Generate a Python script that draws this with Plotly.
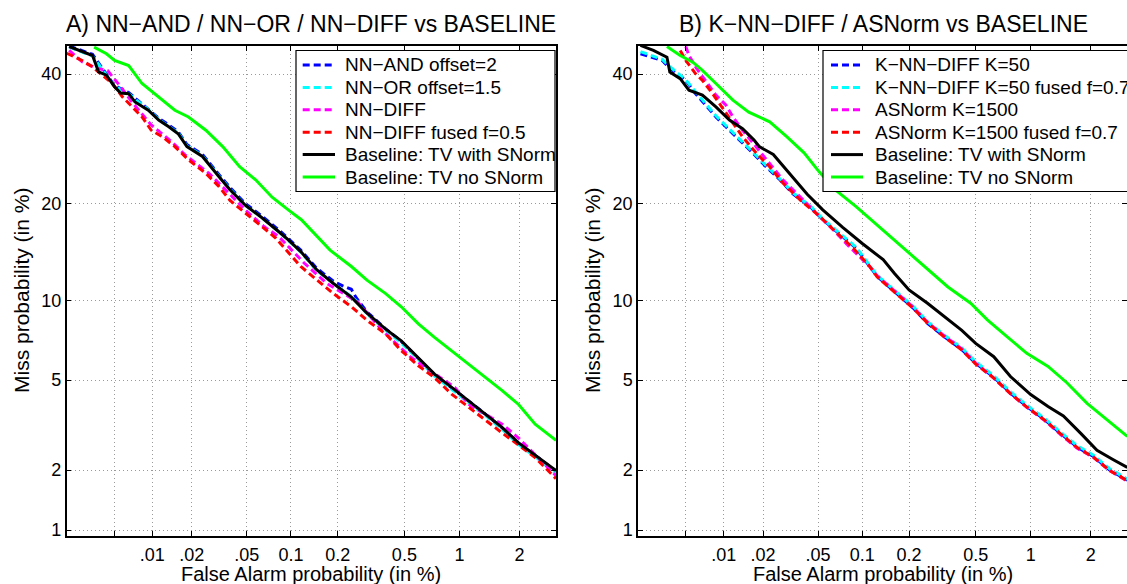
import plotly.graph_objects as go
from statistics import NormalDist

_nd = NormalDist()


def probit(pcts):
    return [_nd.inv_cdf(v / 100.0) for v in pcts]


# ---------------- axis ticks / limits (percent) ----------------
X_TICK_VALS = [0.005, 0.01, 0.02, 0.05, 0.1, 0.2, 0.5, 1, 2]
X_TICK_TEXT = ["", ".01", ".02", ".05", "0.1", "0.2", "0.5", "1", "2"]
Y_TICK_VALS = [1, 2, 5, 10, 20, 40]
Y_TICK_TEXT = ["1", "2", "5", "10", "20", "40"]
X_LIMITS = [0.002, 2.95]
Y_LIMITS = [0.93, 45.0]

# ---------------- panel A data (False alarm %, Miss %) ----------------
a_black_fa = [0.0021, 0.0033, 0.0037, 0.0043, 0.005, 0.0056, 0.0065, 0.0073, 0.0093, 0.0112,
              0.0134, 0.0158, 0.0184, 0.024, 0.0316, 0.038, 0.0487, 0.064, 0.083, 0.096,
              0.116, 0.147, 0.188, 0.243, 0.302, 0.39, 0.48, 0.6, 0.736, 0.91,
              1.12, 1.36, 1.65, 1.98, 2.39, 2.95]
a_black_miss = [44.9, 43.3, 40.4, 39.8, 37.8, 36.7, 36.6, 35.2, 33.8, 32.2,
                31.1, 30.0, 28.0, 26.5, 23.6, 21.8, 19.8, 18.2, 16.6, 15.7,
                14.45, 12.65, 11.4, 10.25, 9.0, 7.88, 7.13, 6.15, 5.29, 4.67,
                4.1, 3.61, 3.14, 2.68, 2.34, 1.99]

a_green_fa = [0.0034, 0.0043, 0.005, 0.0065, 0.0083, 0.0112, 0.0149, 0.0189, 0.0254, 0.0337,
              0.0445, 0.0576, 0.0747, 0.096, 0.117, 0.179, 0.243, 0.302, 0.39, 0.48,
              0.6, 0.736, 0.91, 1.12, 1.36, 1.65, 1.98, 2.37, 2.95]
a_green_miss = [44.8, 43.6, 42.4, 41.5, 38.35, 36.05, 33.8, 32.7, 30.55, 28.0,
                25.0, 23.15, 20.8, 19.2, 18.0, 14.6, 12.96, 11.7, 10.54, 9.49,
                8.24, 7.35, 6.54, 5.8, 5.12, 4.53, 3.96, 3.25, 2.75]

a_red_fa = [0.002, 0.0027, 0.0033, 0.0048, 0.0058, 0.0069, 0.0083, 0.0098, 0.012, 0.0149,
            0.0189, 0.0254, 0.0316, 0.038, 0.0487, 0.064, 0.079, 0.116, 0.147, 0.188,
            0.243, 0.302, 0.39, 0.48, 0.6, 0.736, 0.91, 1.12, 1.36, 1.65,
            1.98, 2.37, 2.95]
a_red_miss = [43.7, 42.4, 41.25, 38.35, 36.05, 34.4, 32.7, 30.55, 29.5, 28.0,
              26.0, 24.06, 22.25, 20.4, 18.8, 17.1, 15.9, 12.96, 11.7, 10.54,
              9.49, 8.49, 7.57, 6.54, 5.71, 5.12, 4.38, 3.84, 3.37, 2.97,
              2.62, 2.29, 1.82]

a_magenta_fa = [0.0021, 0.0027, 0.0036, 0.0044, 0.0056, 0.0069, 0.0098, 0.0141, 0.0178, 0.0268,
                0.038, 0.0487, 0.0657, 0.083, 0.122, 0.171, 0.266, 0.373, 0.547, 0.945,
                1.12, 1.65, 1.98, 2.95]
a_magenta_miss = [44.2, 42.2, 41.0, 40.6, 37.8, 35.2, 31.4, 28.75, 26.75, 24.06,
                  21.2, 19.2, 17.2, 16.05, 13.3, 11.4, 9.85, 7.78, 6.15, 4.67,
                  3.96, 3.25, 2.82, 1.88]

a_blue_fa = [0.0021, 0.0033, 0.0043, 0.005, 0.0065, 0.0093, 0.0112, 0.0134, 0.0158, 0.0184,
             0.024, 0.0316, 0.038, 0.0487, 0.064, 0.083, 0.116, 0.147, 0.188, 0.215,
             0.243, 0.26, 0.302, 0.39, 0.48, 0.6, 0.736, 0.91, 1.12, 1.36,
             1.65, 1.98, 2.39, 2.95]
a_blue_miss = [45.0, 43.5, 40.0, 38.0, 36.8, 34.0, 32.5, 31.4, 30.3, 28.3,
               26.8, 23.9, 22.1, 20.0, 18.4, 16.8, 14.6, 12.8, 11.6, 11.2,
               10.9, 10.2, 9.1, 7.9, 7.1, 6.1, 5.25, 4.65, 4.1, 3.6,
               3.13, 2.67, 2.33, 1.98]

a_cyan_fa = a_blue_fa
a_cyan_miss = [44.8, 43.2, 39.8, 37.9, 36.6, 33.9, 32.3, 31.2, 30.1, 28.1,
               26.6, 23.7, 21.9, 19.8, 18.2, 16.6, 14.4, 12.6, 11.4, 10.8,
               10.3, 9.95, 8.95, 7.8, 7.0, 6.05, 5.2, 4.6, 4.02, 3.55,
               3.08, 2.63, 2.3, 1.93]

# ---------------- panel B data ----------------
b_black_fa = [0.0021, 0.0027, 0.0035, 0.0037, 0.0045, 0.0053, 0.0068, 0.0087, 0.0111, 0.014,
              0.0171, 0.0187, 0.0238, 0.0312, 0.0419, 0.0539, 0.0739, 0.1, 0.137, 0.162,
              0.2, 0.26, 0.327, 0.416, 0.5, 0.632, 0.78, 1.0, 1.23, 1.47,
              1.79, 2.14, 2.55, 2.95]
b_black_miss = [45.1, 44.2, 43.0, 40.35, 39.2, 37.2, 36.35, 34.35, 32.2, 30.8,
                29.0, 28.0, 26.8, 24.06, 21.2, 19.2, 17.1, 15.3, 13.63, 12.3,
                10.85, 9.76, 8.77, 7.8, 6.97, 6.2, 5.17, 4.36, 3.88, 3.53,
                2.96, 2.48, 2.24, 2.06]

b_green_fa = [0.0035, 0.0045, 0.0057, 0.0068, 0.0087, 0.0118, 0.0156, 0.0224, 0.03, 0.0398,
              0.0507, 0.0665, 0.091, 0.125, 0.162, 0.26, 0.345, 0.468, 0.582, 0.747,
              0.954, 1.23, 1.53, 1.92, 2.38, 2.95]
b_green_miss = [44.9, 43.3, 42.1, 40.65, 38.35, 35.5, 33.5, 31.9, 29.5, 27.05,
                24.3, 21.7, 19.6, 17.4, 15.7, 12.7, 11.1, 9.76, 8.52, 7.4,
                6.39, 5.68, 4.88, 4.0, 3.41, 2.87]

b_blue_fa = [0.0021, 0.0028, 0.0032, 0.0037, 0.0042, 0.005, 0.006, 0.0072, 0.0087, 0.0104,
             0.0133, 0.0167, 0.021, 0.0266, 0.0333, 0.044, 0.0539, 0.0696, 0.091, 0.125,
             0.176, 0.213, 0.26, 0.327, 0.416, 0.5, 0.632, 0.78, 0.954, 1.18,
             1.42, 1.72, 2.06, 2.45, 2.95]
b_blue_miss = [43.6, 42.7, 42.4, 41.0, 40.05, 38.9, 36.6, 34.7, 32.7, 31.1,
               29.0, 27.05, 25.0, 23.15, 21.2, 19.6, 18.0, 16.4, 14.8, 12.05,
               10.28, 9.37, 8.28, 7.4, 6.6, 5.84, 5.14, 4.42, 3.88, 3.41,
               2.96, 2.56, 2.32, 2.0, 1.79]

b_cyan_fa = b_blue_fa
b_cyan_miss = [44.0, 43.0, 42.6, 41.3, 40.3, 39.0, 36.9, 34.9, 32.9, 31.3,
               29.2, 27.2, 25.2, 23.3, 21.35, 19.7, 18.1, 16.5, 14.9, 12.15,
               10.4, 9.5, 8.4, 7.5, 6.7, 5.92, 5.2, 4.48, 3.93, 3.45,
               3.0, 2.6, 2.35, 2.03, 1.81]

b_magenta_fa = [0.005, 0.0053, 0.006, 0.0072, 0.0087, 0.0104, 0.0118, 0.014, 0.0177, 0.0224,
                0.028, 0.0376, 0.0483, 0.063, 0.082, 0.112, 0.125, 0.176, 0.213, 0.26,
                0.327, 0.416, 0.5, 0.632, 0.78, 0.954, 1.18, 1.42, 1.72, 2.06,
                2.45, 2.95]
b_magenta_miss = [44.9, 43.3, 41.25, 38.9, 36.35, 34.7, 32.7, 30.55, 28.0, 25.46,
                  23.15, 20.8, 18.8, 16.9, 14.95, 12.96, 12.1, 10.35, 9.45, 8.35,
                  7.45, 6.65, 5.85, 5.1, 4.4, 3.85, 3.38, 2.93, 2.53, 2.3,
                  1.99, 1.77]

b_red_fa = [0.0045, 0.005, 0.006, 0.0068, 0.0082, 0.0099, 0.0118, 0.014, 0.0177, 0.0224,
            0.028, 0.0376, 0.0483, 0.063, 0.087, 0.112, 0.125, 0.176, 0.213, 0.26,
            0.327, 0.416, 0.5, 0.632, 0.78, 0.954, 1.18, 1.42, 1.72, 2.06,
            2.45, 2.95]
b_red_miss = [44.2, 42.4, 40.05, 38.9, 36.6, 34.1, 31.65, 29.5, 27.05, 25.0,
              22.7, 20.4, 18.8, 16.9, 14.8, 12.96, 12.0, 10.25, 9.35, 8.3,
              7.38, 6.58, 5.8, 5.1, 4.4, 3.86, 3.39, 2.95, 2.55, 2.3,
              1.99, 1.78]

# ---------------- styling ----------------
FONT = "Liberation Sans, Arial, sans-serif"
BLUE, CYAN, MAGENTA, RED = "#0000ff", "#00ffff", "#ff00ff", "#ff0000"
BLACK, GREEN = "#000000", "#00ff00"
DASH = "7px,4px"
LW = 3

panel_a = [
    ("NN\u2212AND offset=2", a_blue_fa, a_blue_miss, BLUE, DASH),
    ("NN\u2212OR offset=1.5", a_cyan_fa, a_cyan_miss, CYAN, DASH),
    ("NN\u2212DIFF", a_magenta_fa, a_magenta_miss, MAGENTA, DASH),
    ("NN\u2212DIFF fused f=0.5", a_red_fa, a_red_miss, RED, DASH),
    ("Baseline: TV with SNorm", a_black_fa, a_black_miss, BLACK, "solid"),
    ("Baseline: TV no SNorm", a_green_fa, a_green_miss, GREEN, "solid"),
]
panel_b = [
    ("K\u2212NN\u2212DIFF K=50", b_blue_fa, b_blue_miss, BLUE, DASH),
    ("K\u2212NN\u2212DIFF K=50 fused f=0.7", b_cyan_fa, b_cyan_miss, CYAN, DASH),
    ("ASNorm K=1500", b_magenta_fa, b_magenta_miss, MAGENTA, DASH),
    ("ASNorm K=1500 fused f=0.7", b_red_fa, b_red_miss, RED, DASH),
    ("Baseline: TV with SNorm", b_black_fa, b_black_miss, BLACK, "solid"),
    ("Baseline: TV no SNorm", b_green_fa, b_green_miss, GREEN, "solid"),
]

fig = go.Figure()
for name, fa, miss, col, dash in panel_a:
    fig.add_trace(go.Scatter(x=probit(fa), y=probit(miss), mode="lines", name=name,
                             line=dict(color=col, width=LW, dash=dash),
                             xaxis="x", yaxis="y", showlegend=False))
for name, fa, miss, col, dash in panel_b:
    fig.add_trace(go.Scatter(x=probit(fa), y=probit(miss), mode="lines", name=name,
                             line=dict(color=col, width=LW, dash=dash),
                             xaxis="x2", yaxis="y2", showlegend=False))

W, H = 1127, 584
L_LEFT, L_RIGHT = 66.7, 556.0
R_LEFT = 638.0
TOP, BOT = 46.0, 536.0

common_axis = dict(showline=True, linecolor="black", linewidth=1.5, mirror="ticks",
                   ticks="inside", ticklen=5, tickcolor="black", tickwidth=1,
                   showgrid=True, gridcolor="#9a9a9a", griddash="1px,3px", gridwidth=1,
                   zeroline=False, tickfont=dict(family=FONT, size=18, color="black"))

xr = probit(X_LIMITS)
yr = probit(Y_LIMITS)
xt = probit(X_TICK_VALS)
yt = probit(Y_TICK_VALS)

fig.update_layout(
    width=W, height=H, plot_bgcolor="white", paper_bgcolor="white",
    margin=dict(l=0, r=0, t=0, b=0, autoexpand=False),
    showlegend=False,
    xaxis=dict(domain=[L_LEFT / W, L_RIGHT / W], range=xr, tickvals=xt, ticktext=X_TICK_TEXT,
               anchor="y", ticklabelstandoff=2, **common_axis),
    yaxis=dict(domain=[1 - BOT / H, 1 - TOP / H], range=yr, tickvals=yt, ticktext=Y_TICK_TEXT,
               anchor="x", **common_axis),
    xaxis2=dict(domain=[R_LEFT / W, 1.0],
                range=[xr[0], xr[0] + (W - R_LEFT) / (L_RIGHT - L_LEFT) * (xr[1] - xr[0])],
                tickvals=xt, ticktext=X_TICK_TEXT, anchor="y2", ticklabelstandoff=2, **common_axis),
    yaxis2=dict(domain=[1 - BOT / H, 1 - TOP / H], range=yr, tickvals=yt, ticktext=Y_TICK_TEXT,
                anchor="x2", **common_axis),
)

ann_font = dict(family=FONT, color="black")
annotations = [
    dict(text="A) NN\u2212AND / NN\u2212OR / NN\u2212DIFF vs BASELINE", x=(L_LEFT + L_RIGHT) / 2 / W,
         y=1 - 24 / H, font=dict(size=23, **ann_font), xanchor="center"),
    dict(text="B) K\u2212NN\u2212DIFF / ASNorm vs BASELINE", x=(R_LEFT + 1128) / 2 / W, y=1 - 24 / H,
         font=dict(size=23, **ann_font), xanchor="center"),
    dict(text="False Alarm probability (in %)", x=(L_LEFT + L_RIGHT) / 2 / W, y=1 - 574 / H,
         font=dict(size=20, **ann_font), xanchor="center"),
    dict(text="False Alarm probability (in %)", x=(R_LEFT + 1128) / 2 / W, y=1 - 574 / H,
         font=dict(size=20, **ann_font), xanchor="center"),
    dict(text="Miss probability (in %)", x=21 / W, y=1 - (TOP + BOT) / 2 / H, textangle=-90,
         font=dict(size=21, **ann_font), xanchor="center"),
    dict(text="Miss probability (in %)", x=592 / W, y=1 - (TOP + BOT) / 2 / H, textangle=-90,
         font=dict(size=21, **ann_font), xanchor="center"),
]

# ---------------- legends (drawn as layout decorations) ----------------
shapes = []
LEG_ROW0, LEG_STEP = 65.0, 22.4
legend_specs = [
    (panel_a, 296.0, 555.0, 302.7, 335.0, 343.0),
    (panel_b, 823.0, 1140.0, 831.0, 863.0, 872.5),
]
for entries, bx0, bx1, lx0, lx1, tx in legend_specs:
    shapes.append(dict(type="rect", xref="paper", yref="paper",
                       x0=bx0 / W, x1=bx1 / W, y0=1 - 191.5 / H, y1=1 - 50.5 / H,
                       fillcolor="white", line=dict(color="black", width=1.2), layer="above"))
    for i, (name, _fa, _miss, col, dash) in enumerate(entries):
        yy = LEG_ROW0 + i * LEG_STEP
        shapes.append(dict(type="line", xref="paper", yref="paper",
                           x0=lx0 / W, x1=lx1 / W, y0=1 - yy / H, y1=1 - yy / H,
                           line=dict(color=col, width=LW, dash=dash), layer="above"))
        annotations.append(dict(text=name, x=tx / W, y=1 - yy / H, xanchor="left",
                                font=dict(size=19, **ann_font)))

for a in annotations:
    a.update(xref="paper", yref="paper", showarrow=False, yanchor="middle")
fig.update_layout(annotations=annotations, shapes=shapes)

fig.write_html("out.html")
